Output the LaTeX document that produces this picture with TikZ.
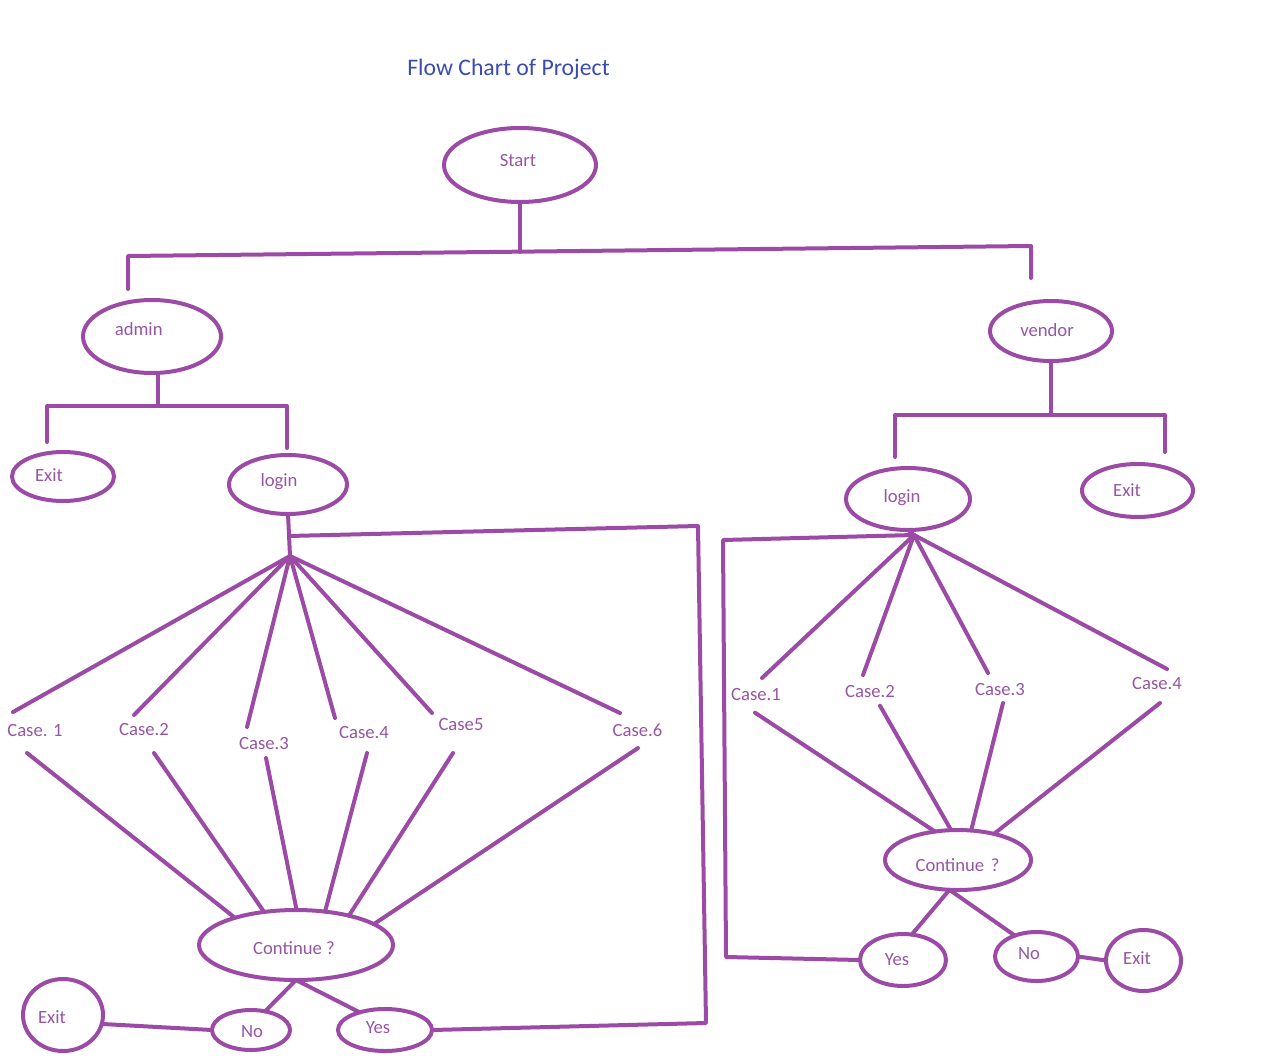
\documentclass[tikz,border=0pt]{standalone}
\usepackage{fontspec}
\setmainfont{Carlito}
\usetikzlibrary{shapes.geometric}
\definecolor{strk}{RGB}{155,75,165}
\definecolor{txtc}{RGB}{150,85,165}
\definecolor{titlec}{RGB}{60,75,175}
\tikzset{
 ov/.style 2 args={ellipse, draw=strk, line width=3pt, inner sep=0pt, outer sep=0pt,
   minimum width=#1*1.5pt, minimum height=#2*1.5pt},
 txt/.style={inner sep=0pt, anchor=base, text=txtc, font=\fontsize{14}{16}\selectfont},
 ln/.style={draw=strk, line width=3pt, line cap=round, line join=round},
}
\begin{document}
\begin{tikzpicture}[x=0.75pt,y=-0.75pt]
\useasboundingbox (0,0) rectangle (1280,1059);
% title
\node[txt, text=titlec, font=\fontsize{17.8}{20}\selectfont] (title) at (508.5,76) {Flow Chart of Project};
% ellipses
\node[ov={76}{37}] (start) at (520,165) {};
\node[txt] (startT) at (518,167) {Start};
\node[ov={69}{36.5}] (admin) at (152,336.5) {};
\node[txt] (adminT) at (138.7,335.7) {admin};
\node[ov={61}{30}] (vendor) at (1051,331) {};
\node[txt] (vendorT) at (1047,336) {vendor};
\node[ov={51}{24.5}] (exitUL) at (63,476.5) {};
\node[txt] (exitULT) at (49,481) {Exit};
\node[ov={59}{29.5}] (loginL) at (288,484.5) {};
\node[txt] (loginLT) at (279,486.7) {login};
\node[ov={62}{31}] (loginR) at (908,499) {};
\node[txt] (loginRT) at (902,502.3) {login};
\node[ov={55.5}{26.5}] (exitUR) at (1137.5,490.5) {};
\node[txt] (exitURT) at (1127,496) {Exit};
\node[ov={97}{35}] (contL) at (296,945) {};
\node[txt] (contLT) at (294,954) {Continue ?};
\node[ov={73}{30}] (contR) at (958,860) {};
\node[txt] (contRT) at (957.5,871) {Continue\hspace{0.35em}?};
\node[ov={40}{36}] (exitBL) at (63,1015) {};
\node[txt] (exitBLT) at (52,1023) {Exit};
\node[ov={39}{20}] (noL) at (251,1030) {};
\node[txt] (noLT) at (252,1037) {No};
\node[ov={47}{21}] (yesL) at (385,1030) {};
\node[txt] (yesLT) at (378,1033) {Yes};
\node[ov={43}{26}] (yesR) at (903,960) {};
\node[txt] (yesRT) at (897,965) {Yes};
\node[ov={41.5}{24.5}] (noR) at (1036.5,956.5) {};
\node[txt] (noRT) at (1029,959) {No};
\node[ov={37.5}{30.5}] (exitBR) at (1143.5,960.5) {};
\node[txt] (exitBRT) at (1137,964) {Exit};
% case labels left
\node[txt] (c1) at (35,736.7) {Case. 1};
\node[txt] (c2) at (144,735) {Case.2};
\node[txt] (c3) at (264,749) {Case.3};
\node[txt] (c4) at (364,738.3) {Case.4};
\node[txt] (c5) at (461,730.7) {Case5};
\node[txt] (c6) at (637.5,736) {Case.6};
% case labels right
\node[txt] (r1) at (756,700.7) {Case.1};
\node[txt] (r2) at (870,697.7) {Case.2};
\node[txt] (r3) at (1000,695) {Case.3};
\node[txt] (r4) at (1157,689) {Case.4};
% coordinates
\coordinate (busS) at (520,252);
\coordinate (busL) at (128,256);
\coordinate (busR) at (1031,246);
\coordinate (aStem) at (158,406);
\coordinate (aL) at (47,406);
\coordinate (aR) at (287,406);
\coordinate (vStem) at (1051,415);
\coordinate (vL) at (895,415);
\coordinate (vR) at (1165,415);
\coordinate (hubL) at (290,556);
\coordinate (loopL) at (289,536);
\coordinate (loopL1) at (698,526);
\coordinate (loopL2) at (706,1023);
\coordinate (hubR) at (914,535);
\coordinate (loopR1) at (723,540);
\coordinate (loopR2) at (726,957);
% top tree
\draw[ln] (start.south) -- (busS);
\draw[ln] ([shift={(-24,-11)}]admin.north) -- (busL) -- (busR) -- ([shift={(-20,-23)}]vendor.north);
\draw[ln] ([shift={(6,2)}]admin.south) -- (aStem);
\draw[ln] ([shift={(-16,-10)}]exitUL.north) -- (aL) -- (aR) -- ([shift={(-1,-7)}]loginL.north);
\draw[ln] (vendor.south) -- (vStem);
\draw[ln] ([shift={(-13,-11)}]loginR.north) -- (vL) -- (vR) -- ([shift={(27.5,-12)}]exitUR.north);
% left login fan
\draw[ln] (loginL.south) -- (hubL);
\draw[ln] (loopL) -- (loopL1) -- (loopL2) -- (yesL.east);
\draw[ln] (hubL) -- ([shift={(-22,-24.7)}]c1.base);
\draw[ln] (hubL) -- ([shift={(-10,-20)}]c2.base);
\draw[ln] (hubL) -- ([shift={(-17,-22)}]c3.base);
\draw[ln] (hubL) -- ([shift={(-29,-20.3)}]c4.base);
\draw[ln] (hubL) -- ([shift={(-29,-17.7)}]c5.base);
\draw[ln] (hubL) -- ([shift={(-17.5,-23)}]c6.base);
\draw[ln] ([shift={(-8,16.3)}]c1.base) -- (contL.156);
\draw[ln] ([shift={(10,18)}]c2.base) -- (contL.134);
\draw[ln] ([shift={(2,9)}]c3.base) -- (contL.89);
\draw[ln] ([shift={(3,14.7)}]c4.base) -- (contL.49);
\draw[ln] ([shift={(-8,22.3)}]c5.base) -- (contL.29);
\draw[ln] ([shift={(0.5,12)}]c6.base) -- (contL.15.7);
\draw[ln] (contL.south) -- (noL.53.5);
\draw[ln] (contL.south) -- (yesL.145.4);
\draw[ln] (exitBL.-13) -- (noL.west);
% right login fan
\draw[ln] (loginR.south) -- (hubR);
\draw[ln] (hubR) -- (loopR1) -- (loopR2) -- (yesR.west);
\draw[ln] (hubR) -- ([shift={(6,-22.7)}]r1.base);
\draw[ln] (hubR) -- ([shift={(-7,-22.7)}]r2.base);
\draw[ln] (hubR) -- ([shift={(-12,-22)}]r3.base);
\draw[ln] (hubR) -- ([shift={(10,-20)}]r4.base);
\draw[ln] ([shift={(-1,12)}]r1.base) -- (contR.129.4);
\draw[ln] ([shift={(10,8)}]r2.base) -- (contR.103.6);
\draw[ln] ([shift={(3,8)}]r3.base) -- (contR.66.8);
\draw[ln] ([shift={(3,14)}]r4.base) -- (contR.36.6);
\draw[ln] (contR.-106) -- (yesR.71.6);
\draw[ln] (contR.-106) -- (noR.136);
\draw[ln] (noR.east) -- (exitBR.west);
\end{tikzpicture}
\end{document}
